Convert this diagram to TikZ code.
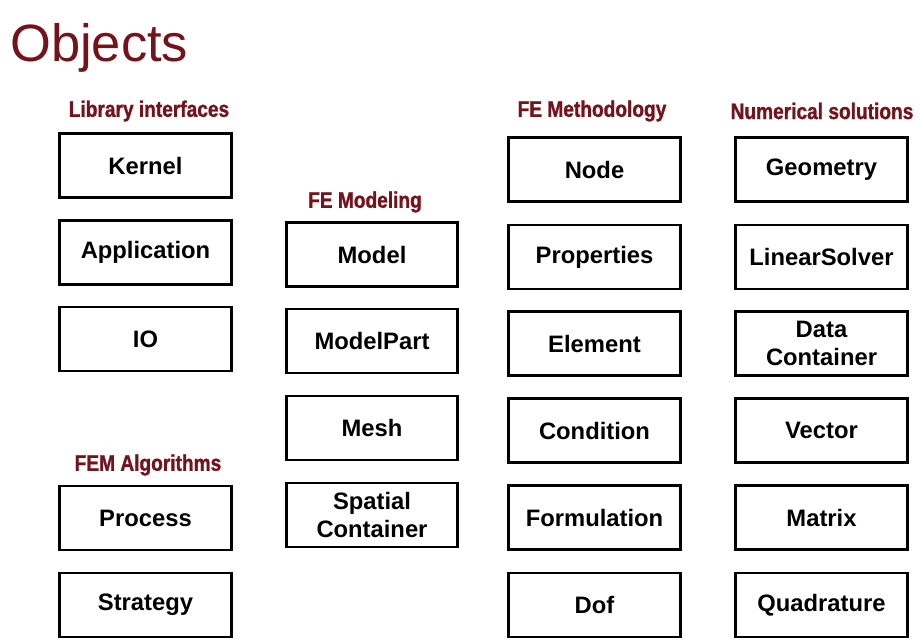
\documentclass[tikz,border=0pt]{standalone}
\usepackage{fontspec}
\setmainfont{Liberation Sans}
\newfontfamily\headfont{Liberation Sans}[FakeStretch=0.85,FakeBold=1.2]
\definecolor{headred}{RGB}{115,20,28}

\tikzset{
  objbox/.style={draw=black, line width=2.3pt, minimum width=5.15cm, minimum height=1.92cm,
    inner sep=0pt, align=center, font=\fontsize{20.3}{24}\selectfont\bfseries},
  grouphead/.style={text=headred, inner sep=0pt, font=\headfont\fontsize{19.2}{22}\selectfont\bfseries}
}

\begin{document}
\begin{tikzpicture}[x=0.03cm, y=-0.03cm]

\useasboundingbox (0,0) rectangle (920,640);

\node[anchor=base west, inner sep=0pt, text=headred, font=\fontsize{44.8}{50}\selectfont] (title) at (10,61) {Objects};

% library interfaces
\node[grouphead] (libhead) at (149,111) {Library interfaces};
\node[objbox] (kernel) at (145.5,165.5) {Kernel};
\node[objbox] (application) at (145.5,252.5) {Application};
\node[objbox] (io) at (145.5,339) {IO};

% fem algorithms
\node[grouphead] (femhead) at (148,465) {FEM Algorithms};
\node[objbox] (process) at (145.5,518) {Process};
\node[objbox] (strategy) at (145.5,605) {Strategy};

% fe modeling
\node[grouphead] (modhead) at (365,202) {FE Modeling};
\node[objbox] (model) at (372,254.5) {Model};
\node[objbox] (modelpart) at (372,341) {ModelPart};
\node[objbox] (mesh) at (372,428) {Mesh};
\node[objbox] (spatial) at (372,515) {Spatial\\Container};

% fe methodology
\node[grouphead] (methhead) at (592,111) {FE Methodology};
\node[objbox] (node) at (594.5,169.5) {Node};
\node[objbox] (properties) at (594.5,257) {Properties};
\node[objbox] (element) at (594.5,343.5) {Element};
\node[objbox] (condition) at (594.5,430.5) {Condition};
\node[objbox] (formulation) at (594.5,517.5) {Formulation};
\node[objbox] (dof) at (594.5,605) {Dof};

% numerical solutions
\node[grouphead] (numhead) at (822,111) {Numerical solutions};
\node[objbox] (geometry) at (821.5,169.5) {Geometry};
\node[objbox] (linsolver) at (821.5,257) {LinearSolver};
\node[objbox] (datacont) at (821.5,343.5) {Data\\Container};
\node[objbox] (vector) at (821.5,430.5) {Vector};
\node[objbox] (matrix) at (821.5,517.5) {Matrix};
\node[objbox] (quadrature) at (821.5,605) {Quadrature};

\end{tikzpicture}
\end{document}
